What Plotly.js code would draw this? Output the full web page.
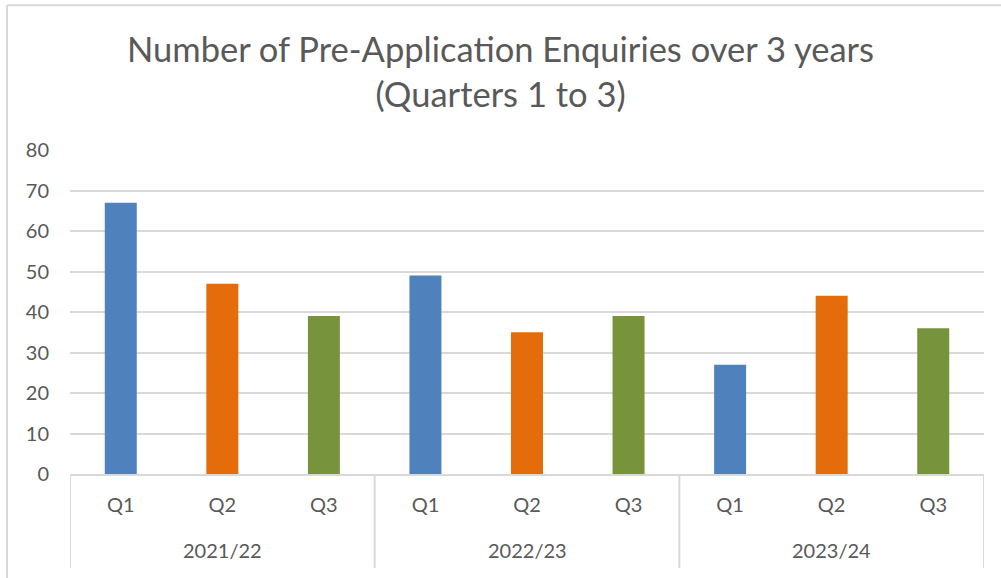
<!DOCTYPE html>
<html>
<head>
<meta charset="utf-8">
<script src="https://cdn.plot.ly/plotly-3.0.1.min.js"></script>
<style>
  html, body { margin: 0; padding: 0; background: #ffffff; }
  #chart { width: 1001px; height: 578px; }
</style>
</head>
<body>
<div id="chart"></div>
<script>
const years = ["2021/22", "2021/22", "2021/22", "2022/23", "2022/23", "2022/23", "2023/24", "2023/24", "2023/24"];
const quarters = ["Q1", "Q2", "Q3", "Q1", "Q2", "Q3", "Q1", "Q2", "Q3"];
const enquiries = [67, 47, 39, 49, 35, 39, 27, 44, 36];
const quarterColors = { Q1: "#4f81bd", Q2: "#e46c0a", Q3: "#77933c" };

const textColor = "#595959";
const gridColor = "#d9d9d9";
const fontFamily = "Lato, 'Open Sans', sans-serif";

// unique category keys (year + quarter), displayed as quarter labels
const categoryKeys = years.map((y, i) => y + " " + quarters[i]);

// group spans for the year level
const groups = [];
years.forEach((y, i) => {
  if (!groups.length || groups[groups.length - 1].year !== y) groups.push({ year: y, start: i, end: i });
  else groups[groups.length - 1].end = i;
});

const trace = {
  type: "bar",
  x: categoryKeys,
  y: enquiries,
  marker: { color: quarters.map(q => quarterColors[q]) },
  width: 0.315,
  hovertemplate: "%{x}: %{y}<extra></extra>"
};

const dividerShapes = [];
const boundaries = [-0.5].concat(groups.map(g => g.end + 0.5));
boundaries.forEach(b => {
  dividerShapes.push({
    type: "line", xref: "x", yref: "paper", x0: b, x1: b, y0: 0, y1: -0.29,
    line: { color: gridColor, width: 2 }
  });
});

const yearAnnotations = groups.map(g => ({
  xref: "x", yref: "paper",
  x: (g.start + g.end) / 2, y: -0.235,
  xanchor: "center", yanchor: "middle",
  text: g.year, showarrow: false,
  font: { family: fontFamily, size: 20, color: textColor }
}));

const layout = {
  width: 1001,
  height: 578,
  margin: { l: 70, r: 17, t: 150, b: 104 },
  paper_bgcolor: "#ffffff",
  plot_bgcolor: "#ffffff",
  showlegend: false,
  font: { family: fontFamily, color: textColor, size: 20 },
  title: {
    text: "Number of Pre-Application Enquiries over 3 years<br>(Quarters 1 to 3)",
    font: { family: fontFamily, size: 34.5, color: textColor },
    x: 0.5, xanchor: "center",
    y: 0.893, yanchor: "middle"
  },
  xaxis: {
    type: "category",
    categoryorder: "array",
    categoryarray: categoryKeys,
    tickvals: categoryKeys,
    ticktext: quarters,
    range: [-0.5, categoryKeys.length - 0.5],
    showline: true,
    linecolor: gridColor,
    linewidth: 2,
    showgrid: false,
    zeroline: false,
    ticks: "",
    ticklabelstandoff: 12,
    tickfont: { family: fontFamily, size: 20, color: textColor }
  },
  yaxis: {
    range: [0, 80],
    dtick: 10,
    showgrid: true,
    gridcolor: gridColor,
    gridwidth: 1.5,
    zeroline: false,
    showline: false,
    ticks: "",
    ticklabelstandoff: 20,
    tickfont: { family: fontFamily, size: 20, color: textColor }
  },
  annotations: yearAnnotations,
  shapes: dividerShapes.concat([
    { type: "line", xref: "paper", yref: "paper", x0: -0.0689, x1: -0.0689, y0: -0.35, y1: 1.447,
      line: { color: gridColor, width: 2 } },
    { type: "line", xref: "paper", yref: "paper", x0: -0.0689, x1: 1.1, y0: 1.447, y1: 1.447,
      line: { color: gridColor, width: 2 } }
  ])
};

Plotly.newPlot("chart", [trace], layout, { displayModeBar: false });
</script>
</body>
</html>
